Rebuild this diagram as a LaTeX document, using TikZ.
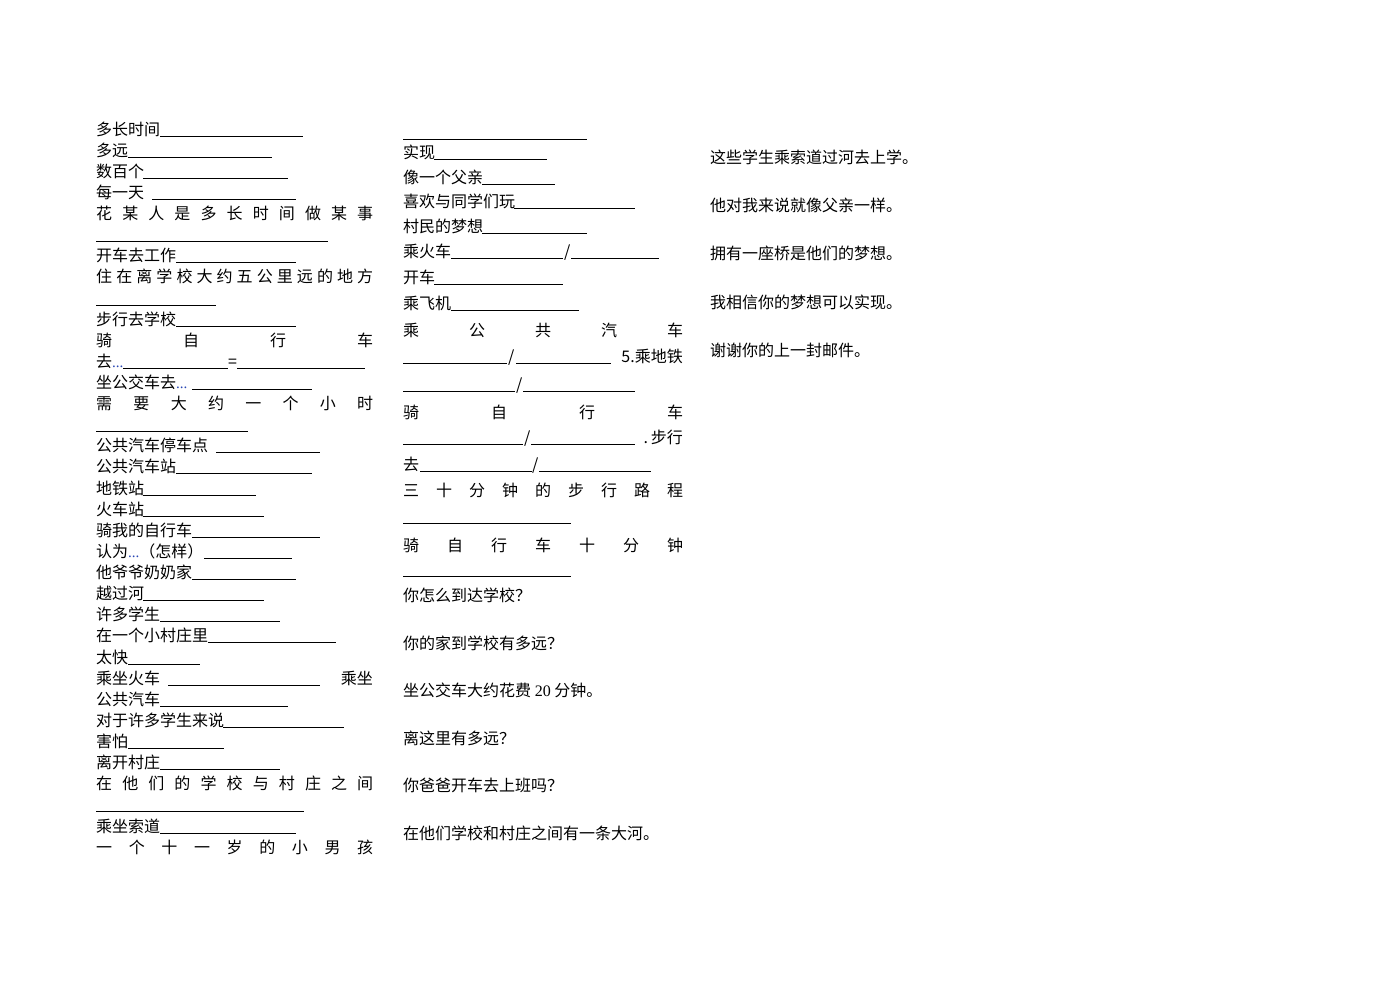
\documentclass[tikz,border=0pt]{standalone}
\usepackage{fontspec}
\setmainfont{Liberation Serif}
\newfontfamily\cjk{Noto Sans CJK SC}
\definecolor{dotblue}{RGB}{40,70,180}

\tikzset{
  txt/.style={anchor=base west, inner sep=0pt, font=\cjk\fontsize{16pt}{16pt}\selectfont},
  rtxt/.style={txt, anchor=base east},
  blank/.style={line width=0.9pt},
}
% small blue ellipsis used after a word
\newcommand{\smalldots}{{\color{dotblue}\rmfamily\fontsize{15pt}{15pt}\selectfont...}}

\begin{document}
\begin{tikzpicture}[x=1pt, y=-1pt]
    \useasboundingbox (0,0) rectangle (1391,983);
    \fill[white] (0,0) rectangle (1391,983);

    % Left column: phrases with blanks
    \node[txt] (a0) at (96,135) {多长时间};
    \draw[blank] (160,136) -- (303,136);
    \node[txt] (a1) at (96,156.1) {多远};
    \draw[blank] (128,157.1) -- (272,157.1);
    \node[txt] (a2) at (96,177.2) {数百个};
    \draw[blank] (143,178.2) -- (288,178.2);
    \node[txt] (a3) at (96,198.4) {每一天};
    \draw[blank] (152,199.4) -- (296,199.4);
    \node[txt] (a4) at (96,219.5) {\makebox[277pt]{花\hfill 某\hfill 人\hfill 是\hfill 多\hfill 长\hfill 时\hfill 间\hfill 做\hfill 某\hfill 事}};
    \draw[blank] (96,241.6) -- (328,241.6);
    \node[txt] (a6) at (96,261.7) {开车去工作};
    \draw[blank] (176,262.7) -- (296,262.7);
    \node[txt] (a7) at (96,282.8) {\makebox[277pt]{住\hfill 在\hfill 离\hfill 学\hfill 校\hfill 大\hfill 约\hfill 五\hfill 公\hfill 里\hfill 远\hfill 的\hfill 地\hfill 方}};
    \draw[blank] (96,305) -- (216,305);
    \node[txt] (a9) at (96,325.1) {步行去学校};
    \draw[blank] (176,326.1) -- (296,326.1);
    \node[txt] (a10) at (96,346.2) {\makebox[277pt]{骑\hfill 自\hfill 行\hfill 车}};
    \node[txt] (a11) at (96,367.3) {去\smalldots};
    \draw[blank] (123,368.3) -- (228,368.3);
    \node[txt] (eq) at (228,367.3) {=};
    \draw[blank] (237,368.3) -- (365,368.3);
    \node[txt] (a12) at (96,388.4) {坐公交车去\smalldots};
    \draw[blank] (192,389.4) -- (312,389.4);
    \node[txt] (a13) at (96,409.6) {\makebox[277pt]{需\hfill 要\hfill 大\hfill 约\hfill 一\hfill 个\hfill 小\hfill 时}};
    \draw[blank] (96,431.7) -- (248,431.7);
    \node[txt] (a15) at (96,451.8) {公共汽车停车点};
    \draw[blank] (216,452.8) -- (320,452.8);
    \node[txt] (a16) at (96,472.9) {公共汽车站};
    \draw[blank] (176,473.9) -- (312,473.9);
    \node[txt] (a17) at (96,494) {地铁站};
    \draw[blank] (143,495) -- (256,495);
    \node[txt] (a18) at (96,515.2) {火车站};
    \draw[blank] (143,516.2) -- (264,516.2);
    \node[txt] (a19) at (96,536.3) {骑我的自行车};
    \draw[blank] (192,537.3) -- (320,537.3);
    \node[txt] (a20) at (96,557.4) {认为\smalldots（怎样）};
    \draw[blank] (204,558.4) -- (292,558.4);
    \node[txt] (a21) at (96,578.5) {他爷爷奶奶家};
    \draw[blank] (192,579.5) -- (296,579.5);
    \node[txt] (a22) at (96,599.6) {越过河};
    \draw[blank] (143,600.6) -- (264,600.6);
    \node[txt] (a23) at (96,620.8) {许多学生};
    \draw[blank] (160,621.8) -- (280,621.8);
    \node[txt] (a24) at (96,641.9) {在一个小村庄里};
    \draw[blank] (208,642.9) -- (336,642.9);
    \node[txt] (a25) at (96,663) {太快};
    \draw[blank] (128,664) -- (200,664);
    \node[txt] (a26) at (96,684.1) {乘坐火车};
    \draw[blank] (168,685.1) -- (320,685.1);
    \node[rtxt] (a26b) at (373,684.1) {乘坐};
    \node[txt] (a27) at (96,705.2) {公共汽车};
    \draw[blank] (160,706.2) -- (288,706.2);
    \node[txt] (a28) at (96,726.4) {对于许多学生来说};
    \draw[blank] (223,727.4) -- (344,727.4);
    \node[txt] (a29) at (96,747.5) {害怕};
    \draw[blank] (128,748.5) -- (224,748.5);
    \node[txt] (a30) at (96,768.6) {离开村庄};
    \draw[blank] (160,769.6) -- (280,769.6);
    \node[txt] (a31) at (96,789.7) {\makebox[277pt]{在\hfill 他\hfill 们\hfill 的\hfill 学\hfill 校\hfill 与\hfill 村\hfill 庄\hfill 之\hfill 间}};
    \draw[blank] (96,811.8) -- (304,811.8);
    \node[txt] (a33) at (96,832) {乘坐索道};
    \draw[blank] (160,833) -- (296,833);
    \node[txt] (a34) at (96,853.1) {\makebox[277pt]{一\hfill 个\hfill 十\hfill 一\hfill 岁\hfill 的\hfill 小\hfill 男\hfill 孩}};

    % Middle column
    \draw[blank] (403,139) -- (587,139);
    \node[txt] (b1) at (403,158) {实现};
    \draw[blank] (434,159) -- (547,159);
    \node[txt] (b2) at (403,183) {像一个父亲};
    \draw[blank] (482,184) -- (555,184);
    \node[txt] (b3) at (403,207) {喜欢与同学们玩};
    \draw[blank] (514,208) -- (635,208);
    \node[txt] (b4) at (403,232) {村民的梦想};
    \draw[blank] (482,233) -- (587,233);
    \node[txt] (b5) at (403,257) {乘火车};
    \draw[blank] (451,258) -- (563,258);
    \node[txt] (s5) at (564,257) {/};
    \draw[blank] (571,258) -- (659,258);
    \node[txt] (b6) at (403,283) {开车};
    \draw[blank] (434,284) -- (563,284);
    \node[txt] (b7) at (403,309) {乘飞机};
    \draw[blank] (451,310) -- (579,310);
    \node[txt] (b8) at (403,336) {\makebox[280pt]{乘\hfill 公\hfill 共\hfill 汽\hfill 车}};
    \draw[blank] (403,363) -- (507,363);
    \node[txt] (s9) at (508,362) {/};
    \draw[blank] (516,363) -- (611,363);
    \node[rtxt] (b9) at (683,362) {5.乘地铁};
    \draw[blank] (403,391) -- (515,391);
    \node[txt] (s10) at (516,390) {/};
    \draw[blank] (523,391) -- (635,391);
    \node[txt] (b11) at (403,418) {\makebox[280pt]{骑\hfill 自\hfill 行\hfill 车}};
    \draw[blank] (403,444) -- (523,444);
    \node[txt] (s12) at (524,443) {/};
    \draw[blank] (531,444) -- (635,444);
    \node[rtxt] (b12) at (683,443) {.\,步行};
    \node[txt] (b13) at (403,470) {去};
    \draw[blank] (420,471) -- (532,471);
    \node[txt] (s13) at (532,470) {/};
    \draw[blank] (539,471) -- (651,471);
    \node[txt] (b14) at (403,496) {\makebox[280pt]{三\hfill 十\hfill 分\hfill 钟\hfill 的\hfill 步\hfill 行\hfill 路\hfill 程}};
    \draw[blank] (403,523) -- (571,523);
    \node[txt] (b15) at (403,551) {\makebox[280pt]{骑\hfill 自\hfill 行\hfill 车\hfill 十\hfill 分\hfill 钟}};
    \draw[blank] (403,576) -- (571,576);

    % Middle column: sentences
    \node[txt] (q1) at (403,601) {你怎么到达学校？};
    \node[txt] (q2) at (403,649) {你的家到学校有多远？};
    \node[txt] (q3) at (403,696) {坐公交车大约花费 {\rmfamily 20} 分钟。};
    \node[txt] (q4) at (403,744) {离这里有多远？};
    \node[txt] (q5) at (403,791) {你爸爸开车去上班吗？};
    \node[txt] (q6) at (403,839) {在他们学校和村庄之间有一条大河。};

    % Right column
    \node[txt] (c1) at (710,163) {这些学生乘索道过河去上学。};
    \node[txt] (c2) at (710,211) {他对我来说就像父亲一样。};
    \node[txt] (c3) at (710,259) {拥有一座桥是他们的梦想。};
    \node[txt] (c4) at (710,308) {我相信你的梦想可以实现。};
    \node[txt] (c5) at (710,356) {谢谢你的上一封邮件。};
\end{tikzpicture}
\end{document}
